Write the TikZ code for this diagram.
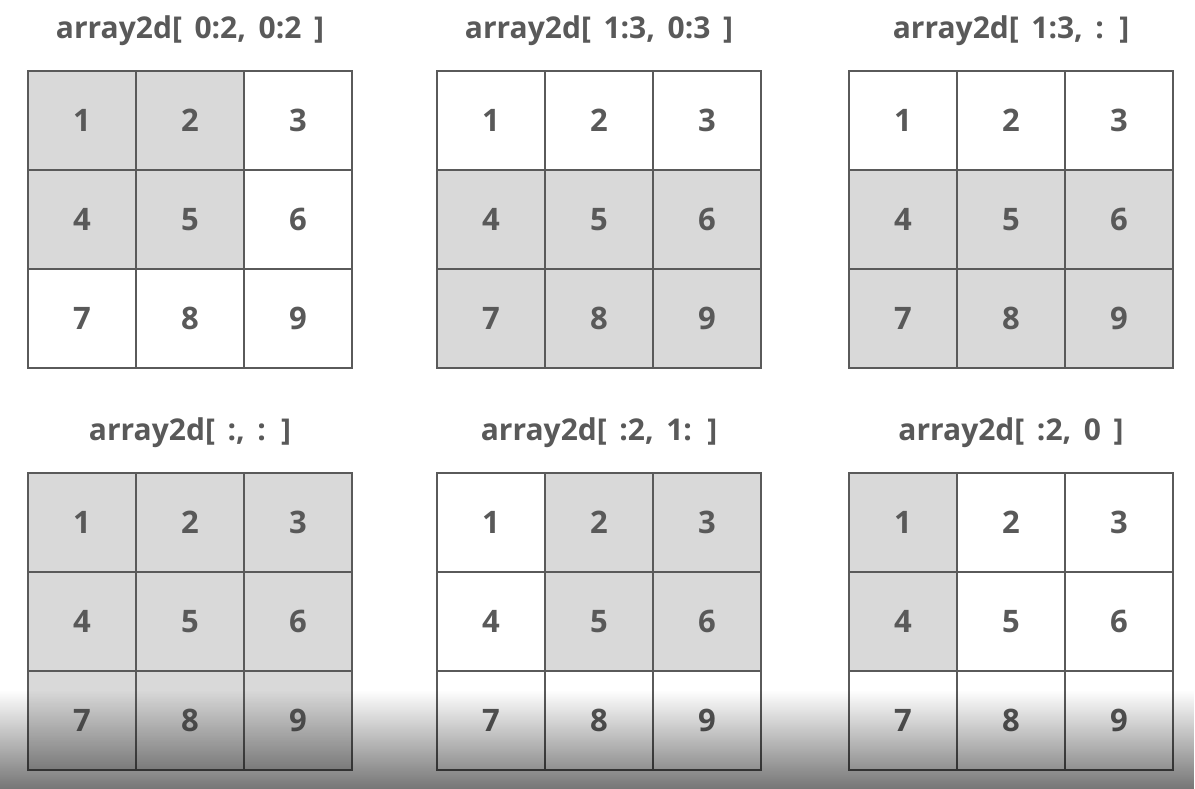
\documentclass[tikz,border=0pt]{standalone}
\usepackage{fontspec}
\setmainfont{Open Sans}
\usetikzlibrary{fadings}
\definecolor{inkgray}{HTML}{595959}
\definecolor{linegray}{HTML}{5A5A5A}
\definecolor{cellgray}{HTML}{D9D9D9}
\newcommand{\titlefont}{\bfseries\fontsize{30}{30}\selectfont\spaceskip=0.42em\relax}

% one 3x3 grid: name, left, top, title, shaded cells
\newcommand{\slicegrid}[5]{%
  \node[gridtitle] (#1-title) at (#2+162,#3-40) {#4};
  \foreach \n in {#5} {
    \pgfmathtruncatemacro\c{mod(\n-1,3)}
    \pgfmathtruncatemacro\r{div(\n-1,3)}
    \fill[cellgray] ({#2+108*\c},{#3+99*\r}) rectangle ++(108,99);
  }
  \foreach \n in {1,...,9} {
    \pgfmathtruncatemacro\c{mod(\n-1,3)}
    \pgfmathtruncatemacro\r{div(\n-1,3)}
    \node[cell] (#1-\n) at ({#2+54+108*\c},{#3+49.5+99*\r}) {\n};
  }
}

\begin{document}
\begin{tikzpicture}[x=1pt,y=-1pt,
    cell/.style={draw=linegray,line width=1.6pt,minimum width=108pt,minimum height=99pt,
      inner sep=0pt,text=inkgray,font=\bfseries\fontsize{31}{31}\selectfont},
    gridtitle/.style={inner sep=0pt,text=inkgray,font=\titlefont}]
  \useasboundingbox[fill=white] (0,0) rectangle (1195,789);

  \slicegrid{ga}{28}{71}{array2d[ 0:2, 0:2 ]}{1,2,4,5}
  \slicegrid{gb}{437}{71}{array2d[ 1:3, 0:3 ]}{4,5,6,7,8,9}
  \slicegrid{gc}{849}{71}{array2d[ 1:3, : ]}{4,5,6,7,8,9}
  \slicegrid{gd}{28}{473}{array2d[ :, : ]}{1,2,3,4,5,6,7,8,9}
  \slicegrid{ge}{437}{473}{array2d[ :2, 1: ]}{2,3,5,6}
  \slicegrid{gf}{849}{473}{array2d[ :2, 0 ]}{1,4}

  % dark shade along the lower edge
  \fill[black,fill opacity=0.6,path fading=north] (0,690) rectangle (1195,800);
\end{tikzpicture}
\end{document}
